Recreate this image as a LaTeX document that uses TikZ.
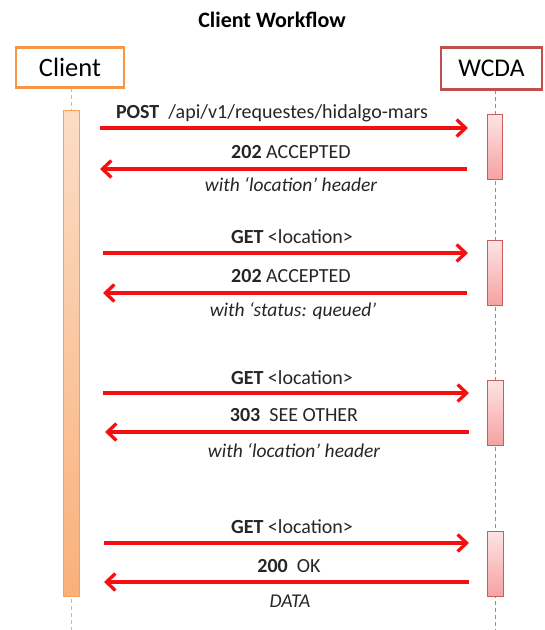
\documentclass[tikz,border=0pt]{standalone}
\usepackage{fontspec}
\setmainfont{Carlito}
\usetikzlibrary{arrows.meta}
\definecolor{corange}{HTML}{F79646}
\definecolor{cred}{HTML}{C0504D}
\definecolor{arrred}{HTML}{F41010}
\definecolor{ctop}{HTML}{FBDDC6}
\definecolor{cbot}{HTML}{F9B07A}
\definecolor{wtop}{HTML}{FDE4E4}
\definecolor{wbot}{HTML}{F6A2A2}
\definecolor{wborder}{HTML}{CC5C5C}
\begin{document}
\begin{tikzpicture}[x=1pt,y=-1pt,
  actor/.style={draw, line width=2.5pt, fill=white, minimum width=#1, inner sep=0pt},
  life/.style={dashed, dash pattern=on 4pt off 3pt, line width=0.8pt},
  cbar/.style={draw=corange!90, line width=0.9pt, top color=ctop, bottom color=cbot},
  wbar/.style={draw=wborder, line width=0.9pt, top color=wtop, bottom color=wbot},
  msg/.style={draw=arrred, line width=3.3pt, -{Straight Barb[length=9pt,width=17pt,line width=3.3pt]}},
  lbl/.style={font=\fontsize{20}{22}\selectfont, inner sep=0pt, text=black!85},
  ilbl/.style={font=\fontsize{19.5}{22}\selectfont\itshape, inner sep=0pt, text=black!85}
]
\useasboundingbox (0,0) rectangle (545,630);
\node[font=\fontsize{22}{24}\selectfont\bfseries] (title) at (272,20) {Client Workflow};
% lifelines
\draw[life, draw=corange!80] (71,88) -- (71,630);
\draw[life, draw=cred!80] (495,90) -- (495,630);
% actors
\node[actor=108pt, draw=corange, minimum height=40pt, font=\fontsize{26.5}{28}\selectfont] (client) at (70,67.5) {Client};
\node[actor=101pt, draw=cred, minimum height=42pt, font=\fontsize{25.5}{28}\selectfont] (wcda) at (491.5,68.5) {WCDA};
% activation bars
\draw[cbar] (63,110) rectangle (79,596);
\draw[wbar] (487,114) rectangle (502,179);
\draw[wbar] (487,240) rectangle (502,305);
\draw[wbar] (487,380) rectangle (503,445);
\draw[wbar] (487,531) rectangle (503,596);
% anchors
\coordinate (c1) at (100,128); \coordinate (w1) at (468,128);
\coordinate (c2) at (100,169); \coordinate (w2) at (467,169);
\coordinate (c3) at (103,253); \coordinate (w3) at (468,253);
\coordinate (c4) at (103,293); \coordinate (w4) at (467,293);
\coordinate (c5) at (103,393); \coordinate (w5) at (469,393);
\coordinate (c6) at (105,432); \coordinate (w6) at (469,432);
\coordinate (c7) at (104,543); \coordinate (w7) at (469,543);
\coordinate (c8) at (104,582); \coordinate (w8) at (469,582);
% messages
\draw[msg] (c1) -- (w1);
\draw[msg] (w2) -- (c2);
\draw[msg] (c3) -- (w3);
\draw[msg] (w4) -- (c4);
\draw[msg] (c5) -- (w5);
\draw[msg] (w6) -- (c6);
\draw[msg] (c7) -- (w7);
\draw[msg] (w8) -- (c8);
% labels
\node[lbl] (l1) at (272,113) {\textbf{POST}\ \ /api/v1/requestes/hidalgo-mars};
\node[lbl] (l2) at (291,152) {\textbf{202}\ ACCEPTED};
\node[ilbl] (l2b) at (291,185) {with ‘location’ header};
\node[lbl] (l3) at (292,237) {\textbf{GET} <location>};
\node[lbl] (l4) at (291,276) {\textbf{202}\ ACCEPTED};
\node[ilbl] (l4b) at (293,311) {with ‘status: queued’};
\node[lbl] (l5) at (292,378) {\textbf{GET} <location>};
\node[lbl] (l6) at (294,415) {\textbf{303}\ \ SEE OTHER};
\node[ilbl] (l6b) at (294,451) {with ‘location’ header};
\node[lbl] (l7) at (292,527) {\textbf{GET} <location>};
\node[lbl] (l8) at (289,566) {\textbf{200}\ \ OK};
\node[ilbl] (l8b) at (290,601) {DATA};
\end{tikzpicture}
\end{document}
